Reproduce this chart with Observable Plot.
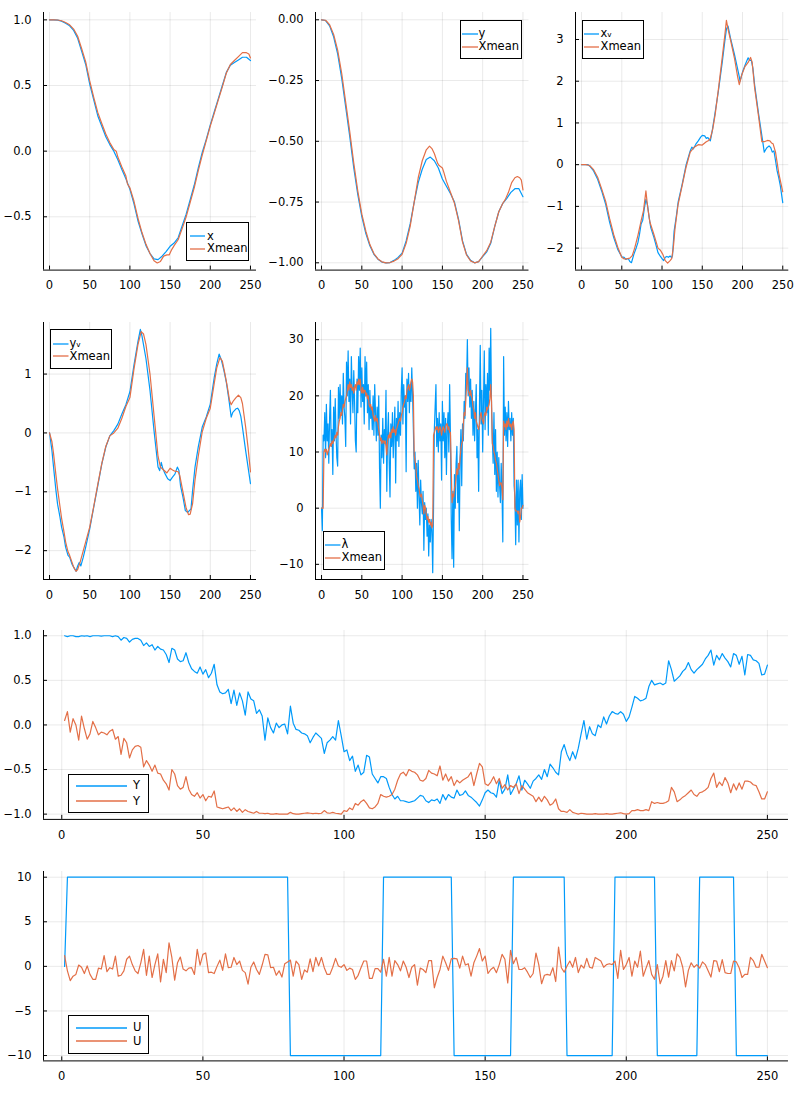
<!DOCTYPE html>
<html><head><meta charset="utf-8">
<script src="https://cdn.jsdelivr.net/npm/d3@7"></script>
<script src="https://cdn.jsdelivr.net/npm/@observablehq/plot@0.6"></script>
<style>
body{margin:0;background:#fff;}
#wrap{position:relative;width:800px;height:1100px;background:#fff;font-family:"DejaVu Sans",sans-serif;overflow:hidden;}
.legend{position:absolute;border:1px solid #000;background:#fff;box-sizing:border-box;}
.sw{position:absolute;overflow:visible;}
.lt{position:absolute;font-size:11.5px;line-height:14px;color:#000;white-space:nowrap;}
</style></head><body><div id="wrap"></div>
<script>
// ---------------- data ----------------
const X_TICKS = [0, 50, 100, 150, 200, 250];

// panel 1: x (every 5 steps, t = 0..250) and its Xmean
const xTrue = [1.0,1.0,0.998,0.99,0.975,0.955,0.92,0.86,0.76,0.66,0.51,0.39,0.27,0.19,0.11,0.05,0.0,-0.065,-0.14,-0.21,-0.29,-0.40,-0.53,-0.63,-0.72,-0.78,-0.82,-0.826,-0.80,-0.765,-0.725,-0.70,-0.66,-0.57,-0.48,-0.37,-0.26,-0.13,-0.01,0.09,0.20,0.30,0.40,0.50,0.60,0.655,0.675,0.695,0.715,0.715,0.69];
const xMean = [[0,1.0],[5,1.0],[10,0.999],[15,0.993],[20,0.98],[25,0.962],[30,0.93],[35,0.875],[40,0.78],[45,0.68],[50,0.535],[55,0.41],[60,0.295],[65,0.21],[70,0.13],[75,0.065],[80,0.012],[83,0.0],[85,-0.045],[90,-0.12],[95,-0.19],[97,-0.25],[100,-0.28],[105,-0.38],[110,-0.51],[115,-0.62],[120,-0.71],[125,-0.78],[130,-0.835],[134,-0.852],[138,-0.84],[142,-0.80],[146,-0.79],[149,-0.79],[152,-0.75],[155,-0.72],[160,-0.675],[165,-0.59],[170,-0.50],[175,-0.39],[180,-0.28],[185,-0.15],[190,-0.03],[195,0.08],[200,0.19],[205,0.29],[210,0.39],[215,0.49],[220,0.595],[225,0.66],[230,0.69],[235,0.72],[240,0.75],[245,0.75],[248,0.74],[250,0.71]];

// panel 2: y (every 5 steps) and its Xmean
const yTrue = [0,-0.003,-0.025,-0.07,-0.14,-0.24,-0.36,-0.48,-0.61,-0.72,-0.81,-0.88,-0.93,-0.965,-0.985,-0.997,-1.0,-0.999,-0.99,-0.978,-0.96,-0.91,-0.84,-0.75,-0.67,-0.615,-0.575,-0.565,-0.58,-0.61,-0.655,-0.685,-0.715,-0.75,-0.82,-0.91,-0.965,-0.99,-1.0,-0.995,-0.975,-0.955,-0.92,-0.85,-0.79,-0.755,-0.735,-0.71,-0.695,-0.695,-0.728];
const yMean = [[0,0],[5,-0.002],[10,-0.02],[15,-0.06],[20,-0.125],[25,-0.22],[30,-0.34],[35,-0.46],[40,-0.59],[45,-0.705],[50,-0.80],[55,-0.87],[60,-0.925],[65,-0.962],[70,-0.984],[75,-0.996],[80,-1.0],[85,-0.999],[90,-0.993],[95,-0.983],[100,-0.965],[105,-0.92],[110,-0.85],[115,-0.75],[120,-0.65],[125,-0.58],[130,-0.535],[134,-0.52],[137,-0.53],[140,-0.55],[144,-0.59],[146,-0.60],[148,-0.605],[150,-0.61],[152,-0.63],[155,-0.665],[160,-0.71],[165,-0.755],[170,-0.825],[175,-0.915],[180,-0.968],[185,-0.992],[190,-1.0],[195,-0.995],[200,-0.972],[205,-0.95],[210,-0.915],[215,-0.85],[220,-0.79],[225,-0.755],[228,-0.74],[232,-0.71],[236,-0.67],[240,-0.65],[243,-0.645],[246,-0.65],[248,-0.66],[250,-0.70]];

// panel 3: x velocity and its Xmean
const xvTrue = [[0,0],[5,0],[8,0],[10,-0.03],[15,-0.15],[20,-0.35],[25,-0.63],[30,-0.95],[35,-1.39],[40,-1.75],[45,-2.03],[50,-2.21],[53,-2.22],[55,-2.27],[58,-2.25],[60,-2.32],[62,-2.35],[65,-2.15],[68,-1.99],[70,-1.87],[72,-1.67],[74,-1.42],[76,-1.33],[78,-1.05],[80,-0.83],[82,-0.97],[84,-1.27],[86,-1.51],[90,-1.75],[95,-2.11],[98,-2.2],[100,-2.25],[102,-2.3],[104,-2.22],[106,-2.2],[108,-2.22],[110,-2.19],[112,-2.23],[113,-2.18],[115,-1.6],[118,-1.2],[120,-0.9],[125,-0.47],[130,0],[135,0.33],[137,0.42],[139,0.38],[142,0.49],[145,0.57],[148,0.66],[150,0.70],[153,0.69],[155,0.63],[157,0.65],[160,0.57],[162,0.77],[165,1.13],[170,1.76],[175,2.48],[178,2.96],[180,3.25],[182,3.32],[185,3.04],[190,2.64],[195,2.20],[197,2.0],[200,2.22],[203,2.38],[205,2.47],[207,2.56],[209,2.50],[211,2.50],[213,2.30],[215,1.92],[220,1.21],[225,0.57],[227,0.30],[230,0.40],[233,0.45],[235,0.41],[237,0.30],[239,0.33],[241,0.10],[243,-0.15],[245,-0.31],[247,-0.51],[250,-0.91]];
const xvMean = [[0,0],[5,0],[10,-0.02],[15,-0.12],[20,-0.30],[25,-0.58],[30,-0.88],[35,-1.30],[40,-1.68],[45,-1.98],[50,-2.22],[53,-2.26],[56,-2.26],[60,-2.24],[63,-2.18],[66,-2.0],[70,-1.7],[74,-1.35],[77,-1.1],[80,-0.63],[82,-1.0],[85,-1.38],[90,-1.68],[95,-2.0],[98,-2.05],[101,-2.15],[104,-2.3],[107,-2.36],[110,-2.3],[112,-2.25],[114,-2.0],[116,-1.55],[120,-0.95],[125,-0.5],[130,-0.05],[135,0.3],[140,0.42],[145,0.48],[150,0.47],[155,0.55],[158,0.58],[160,0.63],[163,0.85],[166,1.2],[170,1.8],[175,2.6],[178,3.1],[180,3.46],[182,3.25],[185,3.0],[190,2.55],[194,2.1],[196,1.92],[199,2.15],[203,2.35],[207,2.45],[210,2.57],[212,2.45],[215,1.85],[220,1.15],[224,0.55],[227,0.55],[231,0.58],[234,0.57],[236,0.52],[238,0.5],[241,0.3],[245,-0.2],[250,-0.65]];

// panel 4: y velocity and its Xmean
const yvTrue = [[0,0],[3,-0.3],[5,-0.58],[8,-0.98],[10,-1.21],[13,-1.43],[15,-1.60],[18,-1.77],[20,-1.94],[23,-2.08],[25,-2.11],[28,-2.23],[30,-2.28],[33,-2.35],[35,-2.26],[37,-2.2],[39,-2.26],[42,-2.11],[45,-1.94],[50,-1.63],[55,-1.26],[60,-0.90],[65,-0.53],[70,-0.24],[75,-0.05],[80,0.04],[85,0.15],[90,0.32],[95,0.48],[100,0.70],[105,1.15],[110,1.55],[113,1.76],[115,1.65],[120,1.26],[125,0.72],[130,0.04],[135,-0.58],[137,-0.64],[139,-0.50],[141,-0.61],[144,-0.70],[147,-0.78],[150,-0.81],[153,-0.75],[156,-0.70],[159,-0.58],[161,-0.64],[163,-0.90],[166,-1.09],[169,-1.32],[172,-1.35],[174,-1.32],[176,-1.29],[178,-0.98],[181,-0.58],[185,-0.24],[190,0.10],[195,0.27],[200,0.49],[205,0.95],[208,1.17],[211,1.34],[214,1.23],[217,1.06],[220,0.86],[223,0.58],[226,0.27],[228,0.35],[230,0.38],[232,0.41],[234,0.42],[236,0.38],[238,0.28],[240,0.10],[244,-0.30],[247,-0.58],[250,-0.86]];
const yvMean = [[0,0],[3,-0.15],[5,-0.35],[8,-0.72],[10,-0.95],[13,-1.25],[15,-1.45],[18,-1.68],[20,-1.85],[23,-2.02],[25,-2.08],[28,-2.2],[30,-2.28],[33,-2.35],[35,-2.32],[38,-2.2],[42,-2.0],[45,-1.85],[50,-1.6],[55,-1.25],[60,-0.88],[65,-0.52],[70,-0.23],[75,-0.05],[80,0.0],[85,0.08],[90,0.25],[95,0.45],[100,0.6],[105,1.08],[110,1.5],[114,1.72],[117,1.68],[120,1.5],[125,1.0],[130,0.3],[135,-0.4],[138,-0.58],[142,-0.63],[146,-0.68],[150,-0.60],[153,-0.63],[156,-0.65],[160,-0.66],[162,-0.72],[166,-1.0],[170,-1.28],[173,-1.39],[175,-1.38],[178,-1.2],[181,-0.8],[185,-0.4],[190,0.02],[195,0.25],[200,0.42],[205,0.85],[208,1.1],[212,1.28],[215,1.22],[218,1.02],[221,0.8],[224,0.55],[226,0.48],[229,0.55],[232,0.60],[235,0.64],[238,0.60],[240,0.5],[244,0.1],[247,-0.25],[250,-0.66]];

// panel 5: λ (t = 0..250) and its Xmean
const lambdaObs = [
0,-4,13,12,17,9,18.5,12,15,8,
16,21,11,14,6,18,12,19.5,13,9,
7.5,21.5,16,22,17,20,15,24,18,16,
11,26,20,28,19,23,15,27,21,17,
24.5,19,12,10,23,17,27,21,28.5,18,
25,19,22,15,27,20,26,17,22,14,
21,16,18,14,20,13,22,17,12,18,
13,20,7,0,13,9,16,8,14,12,
21,3,13,17,8,2,15,11,17,9,
14,18,4.5,16,12,19,11,17,13,21,
25,15,22,18,20,6.5,23,19,24,17,
22,19,25,20,14,7,10,3,8,0,
8.5,2,-3,5,1,-1,3,-7.5,1,-2,
0,-5,-1,-8.5,-3,-6,-2,-4,-11.5,0,
14,18,22,11,16,10,17,12,15,5,
19,12,17,9,16,6,14,17,10,22,
13,-2,-9,3,-10.5,6,0,8,11,1,
7,-4,9,14,4,15,12,19,16,24,
22,30,20,25,18,23,16,21,13,19,
12,17,22,9,14,3,18,29,15,21,
10,19,28,14,22,17,24,13,28.5,21,
32,18,12,8,17,6,14,3,10,2,
9,4,1,8,3,-6,27,13,18,12,
17,11,19,14,16,12,17,13,16,4,
2,-6.5,5,-3,5,-6,3,5,-2,6,
0];
const lambdaMean = [
0,0,0,10,10.5,10,10.5,9.5,10,10.5,
11,11.5,11,12,11.5,12,12.5,13,12.5,13.5,
13,14.5,15.5,16,17,16.5,17.5,18.5,18,19,
19.5,20,21,22,21,22.5,21.5,22,21,21.5,
20.5,21.5,22,21,22.5,22,23,22,23,21,
20.5,21.5,20.5,21,21,20,20.5,19.5,20,18.5,
18,18.5,17.5,18,16.5,16,15.5,16.5,15.5,16,
15,14,13,12,12.5,11.5,12,12,11.5,12,
11,9.5,12,13,12.5,13.5,12.5,14,13.5,14.5,
13.5,14,13,14,14.5,15,15.5,16,15.5,16.5,
17,18,18.5,19,20,19.5,21,21.5,22,21,
21.5,22.5,23,22.5,20,9.5,8.5,7.5,5.5,5,
4,3.5,2.5,2,2.5,1.5,0.5,-1,0.5,0,
-1,-2,-1.5,-2.5,-2,-3,-2.5,-3.5,-3,13,
13.5,14,14.5,14,14.5,13.5,14,14.5,14,13,
14,14.5,14,13.5,14.5,15,15,14,14.5,13.5,
13.5,7,1,2.5,2,3.5,4,5.5,7,6,
8,7,9,10.5,11.5,12,15,17,16.5,19,
22,25,21,20.5,20,21,20,19.5,18,17.5,
16,17,15.5,15,14.5,14,15,16.5,17,16,
15.5,15,16.5,17,16.5,18,17.5,18,18.5,19.5,
22,19,11.5,11,10,9.5,8.5,8,7,6,
5,4,4.5,4.5,3.5,1.5,15.5,14.5,15,14,
15.5,14.5,16,15,14.5,15,14,15,15.5,14,
0,-0.5,-0.5,-0.5,-1,-0.5,-2.5,-1.5,0,0,
0.5];

// panel 6: Y (t = 1..250), two output series
const Y1 = [
1.0,0.99,1.0,1.0,0.99,0.99,1.0,0.995,1.0,0.99,
1.0,1.0,1.0,0.995,1.0,1.0,1.0,0.99,1.0,0.99,
0.95,0.98,0.97,0.93,0.96,0.97,0.97,0.95,0.89,0.92,
0.88,0.90,0.84,0.88,0.85,0.84,0.79,0.70,0.86,0.84,
0.74,0.71,0.72,0.81,0.70,0.63,0.60,0.58,0.65,0.57,
0.62,0.53,0.58,0.68,0.45,0.37,0.35,0.36,0.40,0.24,
0.39,0.22,0.36,0.27,0.11,0.37,0.29,0.27,0.13,0.17,
0.10,-0.17,0.08,-0.03,-0.09,0.02,-0.03,0.0,0.01,-0.10,
0.21,0.02,-0.05,-0.06,-0.09,-0.10,-0.12,-0.20,-0.14,-0.09,
-0.12,-0.15,-0.32,-0.20,-0.17,-0.13,-0.17,0.05,-0.12,-0.30,
-0.28,-0.40,-0.35,-0.52,-0.45,-0.56,-0.53,-0.34,-0.36,-0.55,
-0.60,-0.65,-0.58,-0.58,-0.60,-0.70,-0.78,-0.83,-0.80,-0.85,
-0.85,-0.86,-0.87,-0.86,-0.85,-0.82,-0.79,-0.80,-0.85,-0.87,
-0.84,-0.85,-0.83,-0.88,-0.78,-0.84,-0.78,-0.81,-0.82,-0.73,
-0.79,-0.78,-0.74,-0.79,-0.81,-0.84,-0.87,-0.91,-0.84,-0.76,
-0.73,-0.76,-0.77,-0.81,-0.62,-0.77,-0.72,-0.56,-0.78,-0.72,
-0.66,-0.57,-0.73,-0.62,-0.66,-0.71,-0.63,-0.60,-0.56,-0.61,
-0.50,-0.58,-0.44,-0.48,-0.53,-0.56,-0.30,-0.22,-0.33,-0.40,
-0.30,-0.38,-0.26,-0.10,0.05,-0.16,-0.02,-0.10,-0.12,0.0,
-0.03,0.09,0.01,0.10,0.15,0.13,0.12,0.15,0.12,0.04,
0.09,0.20,0.32,0.30,0.27,0.28,0.30,0.43,0.50,0.45,
0.46,0.47,0.45,0.47,0.72,0.62,0.49,0.52,0.55,0.60,
0.63,0.70,0.62,0.58,0.62,0.65,0.68,0.74,0.78,0.84,
0.67,0.78,0.73,0.80,0.75,0.71,0.65,0.80,0.78,0.68,
0.77,0.56,0.79,0.78,0.73,0.72,0.69,0.56,0.57,0.67];
const Y2 = [
0.05,0.15,-0.08,0.07,0.0,-0.17,0.10,-0.04,-0.16,-0.10,
0.04,-0.03,-0.11,-0.08,-0.09,-0.11,-0.07,-0.05,-0.16,-0.13,
-0.33,-0.15,-0.20,-0.37,-0.28,-0.24,-0.23,-0.25,-0.47,-0.40,
-0.45,-0.52,-0.45,-0.54,-0.55,-0.62,-0.66,-0.73,-0.50,-0.55,
-0.68,-0.72,-0.70,-0.58,-0.72,-0.78,-0.80,-0.76,-0.82,-0.78,
-0.85,-0.80,-0.81,-0.74,-0.92,-0.93,-0.94,-0.93,-0.92,-0.96,
-0.93,-0.97,-0.94,-0.98,-0.95,-0.97,-0.98,-0.99,-0.97,-0.99,
-0.99,-0.995,-0.99,-1.0,-1.0,-0.995,-1.0,-1.0,-1.0,-1.0,
-0.98,-0.995,-1.0,-1.0,-0.995,-0.99,-0.985,-0.99,-0.995,-0.99,
-0.995,-0.99,-0.96,-0.985,-0.99,-0.98,-0.99,-0.995,-1.0,-0.96,
-0.97,-0.93,-0.95,-0.88,-0.90,-0.86,-0.84,-0.88,-0.93,-0.94,
-0.92,-0.88,-0.78,-0.80,-0.81,-0.80,-0.78,-0.72,-0.62,-0.55,
-0.53,-0.57,-0.50,-0.52,-0.53,-0.56,-0.62,-0.63,-0.60,-0.51,
-0.54,-0.55,-0.57,-0.46,-0.62,-0.55,-0.63,-0.58,-0.68,-0.62,
-0.65,-0.62,-0.60,-0.58,-0.53,-0.68,-0.55,-0.43,-0.47,-0.66,
-0.68,-0.64,-0.58,-0.66,-0.60,-0.71,-0.67,-0.73,-0.68,-0.70,
-0.66,-0.77,-0.68,-0.72,-0.76,-0.78,-0.80,-0.86,-0.81,-0.86,
-0.80,-0.84,-0.90,-0.88,-0.83,-0.94,-0.97,-0.97,-0.98,-0.95,
-0.98,-0.99,-1.0,-0.99,-0.995,-1.0,-1.0,-1.0,-0.995,-1.0,
-1.0,-1.0,-0.995,-1.0,-1.0,-0.995,-0.99,-0.985,-0.995,-1.0,
-0.995,-0.96,-0.96,-0.95,-0.96,-0.96,-0.95,-0.96,-0.86,-0.88,
-0.87,-0.88,-0.88,-0.87,-0.85,-0.70,-0.75,-0.86,-0.84,-0.81,
-0.79,-0.76,-0.73,-0.78,-0.80,-0.76,-0.75,-0.73,-0.70,-0.60,
-0.54,-0.70,-0.64,-0.68,-0.59,-0.65,-0.76,-0.66,-0.73,-0.65,
-0.72,-0.63,-0.63,-0.64,-0.67,-0.68,-0.75,-0.83,-0.83,-0.75];

// panel 7: U (t = 1..250): square-wave input (switch points) and the noise input
const U1 = [[1,0],[2,10],[80,10],[81,-10],[113,-10],[114,10],[138,10],[139,-10],[159,-10],[160,10],[178,10],[179,-10],[195,-10],[196,10],[210,10],[211,-10],[225,-10],[226,10],[238,10],[239,-10],[250,-10]];
const U2 = [
1.2,-0.5,-1.6,-1.1,-0.9,0.15,-0.1,-0.8,0.05,-0.9,
-1.45,-1.45,-0.2,-0.3,1.2,-0.6,-0.15,-0.3,1.15,-1.1,
-1.0,-0.5,0.8,1.15,0.2,-0.5,-0.8,0.4,1.9,-1.0,
1.15,-1.25,0.2,1.4,-1.75,0.8,-0.7,2.65,1.0,-1.55,
0.4,1.05,-0.3,-0.5,-0.2,-0.15,-0.9,1.9,0.15,1.35,
1.5,-0.7,-0.65,-0.8,0.0,0.7,-0.45,1.4,-0.15,-0.1,
1.0,0.2,0.6,-0.45,-0.7,-2.0,-0.1,0.5,-0.35,-0.9,
0.15,1.35,1.3,-0.15,-0.1,-1.0,-0.5,-1.2,0.3,0.5,
0.7,-1.1,0.6,0.2,-1.45,-0.4,-0.65,0.85,-0.6,1.0,
0.05,1.0,-0.15,-0.9,-0.9,-0.1,0.9,0.05,-0.1,0.2,
-0.45,-0.2,-0.35,-1.45,-1.0,-0.15,0.6,0.6,-1.35,-1.35,
-0.25,-0.25,-0.65,0.8,-1.1,1.0,-1.1,0.65,0.2,-0.5,
0.6,-0.1,-1.25,-0.1,0.2,-2.1,-0.2,-0.35,-0.7,0.65,
0.65,-2.4,-1.25,-0.35,1.15,0.4,-0.45,0.85,0.9,0.85,
-0.2,1.15,0.15,0.3,-1.1,0.4,1.15,2.0,0.6,1.15,
-0.8,-0.35,-0.1,-0.7,0.2,1.35,0.8,-1.85,1.8,0.3,
1.0,-0.35,-0.35,-0.15,-0.65,-1.25,-0.8,1.5,0.2,-1.95,
-1.0,-0.9,-1.0,-0.15,-1.7,2.15,-0.15,-0.65,0.05,0.6,
-0.1,1.0,-0.7,0.15,-0.2,0.9,-0.1,-0.2,1.0,0.8,
0.6,-0.1,0.2,0.3,0.2,0.6,-1.35,1.8,-0.35,0.2,
1.0,-1.1,0.6,-0.1,1.7,-1.1,-0.2,0.65,-0.9,-1.45,
0.2,-1.95,-1.1,0.65,-1.2,0.65,-0.5,1.4,1.0,-0.1,
-2.3,-0.45,0.4,-0.1,0.2,-0.2,0.5,0.2,-0.5,-1.2,
0.65,0.6,-0.6,0.75,-0.7,-0.8,-0.8,0.6,0.5,-0.15,
-1.25,-0.9,-0.9,1.0,0.65,-0.1,-0.1,1.35,0.6,-0.15];

// legend labels
const labels1 = ["x", "Xmean"];
const labels2 = ["y", "Xmean"];
const labels3 = ["xᵥ", "Xmean"];
const labels4 = ["yᵥ", "Xmean"];
const labels5 = ["λ", "Xmean"];
const labels6 = ["Y", "Y"];
const labels7 = ["U", "U"];

// ---------------- drawing ----------------
const BLUE = "#009AFA", ORANGE = "#E36F47";
const SVGNS = "http://www.w3.org/2000/svg";
const wrap = document.getElementById("wrap");
const every5 = arr => arr.map((v, i) => ({t: i * 5, v}));
const pairs = arr => arr.map(([t, v]) => ({t, v}));
const steps = (arr, t0) => arr.map((v, i) => ({t: i + t0, v}));

function panel({frame, xDomain, yDomain, yTicks, yFormat, series}) {
  const [l, r, t, b] = frame;
  const ML = 52, MR = 8, MT = 8, MB = 32;
  const W = (r - l) + ML + MR;
  const svg = Plot.plot({
    width: W,
    height: (b - t) + MT + MB,
    marginLeft: ML, marginRight: MR, marginTop: MT, marginBottom: MB,
    style: {fontFamily: "DejaVu Sans, sans-serif", fontSize: "11.5px", color: "#000", background: "transparent", overflow: "visible", maxWidth: "none"},
    x: {domain: xDomain},
    y: {domain: yDomain},
    marks: [
      Plot.gridX(X_TICKS, {stroke: "#000", strokeOpacity: 0.09, strokeWidth: 1}),
      Plot.gridY(yTicks, {stroke: "#000", strokeOpacity: 0.09, strokeWidth: 1}),
      ...series.map(s => Plot.line(s.data, {x: "t", y: "v", stroke: s.color, strokeWidth: 1.2})),
      Plot.ruleX([xDomain[0]], {stroke: "#000", strokeWidth: 1}),
      Plot.ruleY([yDomain[0]], {stroke: "#000", strokeWidth: 1}),
      Plot.axisX(X_TICKS, {tickSize: -4, tickPadding: 15, tickFormat: "d", label: null}),
      Plot.axisY(yTicks, {tickSize: -4, tickPadding: 16, tickFormat: yFormat, label: null})
    ]
  });
  svg.style.position = "absolute";
  svg.style.left = (l - ML) + "px";
  svg.style.top = (t - MT) + "px";
  svg.style.maxWidth = "none";
  svg.style.width = W + "px";
  wrap.appendChild(svg);
}

function legend({left, top, width, height, swX, swW, textX, rows, labels}) {
  const box = document.createElement("div");
  box.className = "legend";
  Object.assign(box.style, {left: left + "px", top: top + "px", width: width + "px", height: height + "px"});
  [BLUE, ORANGE].forEach((color, i) => {
    const sw = document.createElementNS(SVGNS, "svg");
    sw.setAttribute("class", "sw");
    sw.setAttribute("width", swW);
    sw.setAttribute("height", 4);
    Object.assign(sw.style, {left: swX + "px", top: (rows[i] - 2) + "px"});
    const ln = document.createElementNS(SVGNS, "line");
    ln.setAttribute("x1", 0); ln.setAttribute("x2", swW);
    ln.setAttribute("y1", 2); ln.setAttribute("y2", 2);
    ln.setAttribute("stroke", color); ln.setAttribute("stroke-width", 1.3);
    sw.appendChild(ln);
    const tx = document.createElement("div");
    tx.className = "lt";
    tx.textContent = labels[i];
    Object.assign(tx.style, {left: textX + "px", top: (rows[i] - 7.5) + "px"});
    box.append(sw, tx);
  });
  wrap.appendChild(box);
}

const XT = [-7.5, 257.5];
const XB = [-6.47, 257.47];

panel({frame: [43, 256, 11.7, 269.3], xDomain: XT, yDomain: [-0.906, 1.056], yTicks: [-0.5, 0, 0.5, 1], yFormat: ".1f",
  series: [{data: every5(xTrue), color: BLUE}, {data: pairs(xMean), color: ORANGE}]});
panel({frame: [315, 528.5, 11.7, 269.3], xDomain: XT, yDomain: [-1.03, 0.03], yTicks: [-1, -0.75, -0.5, -0.25, 0], yFormat: ".2f",
  series: [{data: every5(yTrue), color: BLUE}, {data: pairs(yMean), color: ORANGE}]});
panel({frame: [574.7, 788, 11.7, 269.3], xDomain: XT, yDomain: [-2.527, 3.647], yTicks: [-2, -1, 0, 1, 2, 3], yFormat: "d",
  series: [{data: pairs(xvTrue), color: BLUE}, {data: pairs(xvMean), color: ORANGE}]});
panel({frame: [43, 256, 321.5, 578.5], xDomain: XT, yDomain: [-2.49, 1.876], yTicks: [-2, -1, 0, 1], yFormat: "d",
  series: [{data: pairs(yvTrue), color: BLUE}, {data: pairs(yvMean), color: ORANGE}]});
panel({frame: [315, 528.5, 321.5, 578.5], xDomain: XT, yDomain: [-12.7, 33.06], yTicks: [-10, 0, 10, 20, 30], yFormat: "d",
  series: [{data: steps(lambdaObs, 0), color: BLUE}, {data: steps(lambdaMean, 0), color: ORANGE}]});
panel({frame: [43, 788, 630.4, 819.3], xDomain: XB, yDomain: [-1.059, 1.059], yTicks: [-1, -0.5, 0, 0.5, 1], yFormat: ".1f",
  series: [{data: steps(Y1, 1), color: BLUE}, {data: steps(Y2, 1), color: ORANGE}]});
panel({frame: [43, 788, 870.6, 1060], xDomain: XB, yDomain: [-10.6, 10.64], yTicks: [-10, -5, 0, 5, 10], yFormat: "d",
  series: [{data: pairs(U1), color: BLUE}, {data: steps(U2, 1), color: ORANGE}]});

legend({left: 186, top: 222, width: 63, height: 39, swX: 3, swW: 15, textX: 20, rows: [13, 25.5], labels: labels1});
legend({left: 460, top: 20, width: 62, height: 39, swX: 1, swW: 16, textX: 17.5, rows: [12.5, 25.5], labels: labels2});
legend({left: 582, top: 20, width: 62, height: 39, swX: 1, swW: 15, textX: 17.5, rows: [12.5, 25.5], labels: labels3});
legend({left: 50, top: 329, width: 62, height: 40, swX: 2, swW: 15.5, textX: 18.5, rows: [13.5, 26], labels: labels4});
legend({left: 323, top: 531, width: 62, height: 39, swX: 1, swW: 15.5, textX: 17.5, rows: [12.5, 25.5], labels: labels5});
legend({left: 68, top: 774, width: 81, height: 39, swX: 7, swW: 51, textX: 64, rows: [10.8, 26], labels: labels6});
legend({left: 68, top: 1015, width: 81, height: 39, swX: 7, swW: 51, textX: 64, rows: [11.8, 25], labels: labels7});
</script></body></html>
